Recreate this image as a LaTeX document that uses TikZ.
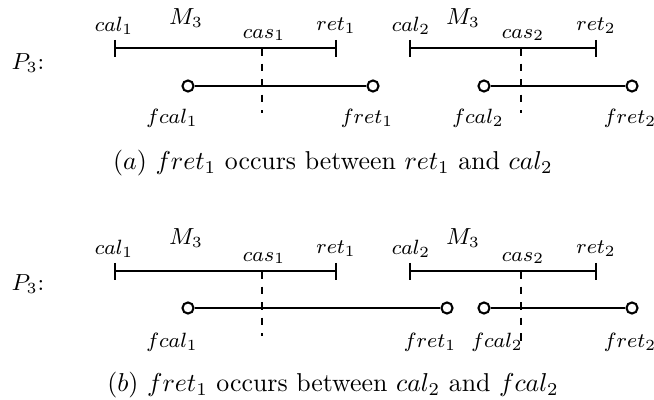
\documentclass[tikz,border=0pt]{standalone}
\usepackage{tikz}

\tikzset{
  span/.style={line width=0.8pt},
  endpt/.style={circle,draw,line width=0.8pt,fill=white,inner sep=0pt,minimum size=4.3pt},
  castick/.style={dashed,line width=0.4pt},
  lbl/.style={font=\footnotesize,inner sep=0pt},
  biglbl/.style={font=\small,inner sep=0pt}
}

\begin{document}
\begin{tikzpicture}[x=0.387pt,y=-0.387pt]
  \useasboundingbox (0,0) rectangle (654,400);
  % (a) fret_1 between ret_1 and cal_2
  \begin{scope}
    \coordinate (cal1a) at (115,48); \coordinate (ret1a) at (336,48);
    \coordinate (cal2a) at (410,48); \coordinate (ret2a) at (596,48);
    \coordinate (cas1a) at (262,48); \coordinate (cas1enda) at (262,113);
    \coordinate (cas2a) at (521,48); \coordinate (cas2enda) at (521,113);
    \draw[span] (cal1a)--(ret1a) (cal2a)--(ret2a);
    \foreach \tt in {cal1a,ret1a,cal2a,ret2a}
      \draw[span] ([yshift=3.1pt]\tt)--([yshift=-3.5pt]\tt);
    \draw[castick] (cas1a)--(cas1enda) (cas2a)--(cas2enda);
    \node[endpt] (fcal1a) at (188,86) {};
    \node[endpt] (fret1a) at (373,86) {};
    \node[endpt] (fcal2a) at (484,86) {};
    \node[endpt] (fret2a) at (632,86) {};
    \draw[span] (fcal1a)--(fret1a) (fcal2a)--(fret2a);
    \node[biglbl] (p3a) at (28,63) {$P_3$:};
    \node[lbl] (lcal1a) at (114,26) {$cal_1$};
    \node[biglbl] (lm3a) at (186,18) {$M_3$};
    \node[lbl] (lcas1a) at (264,35) {$cas_1$};
    \node[lbl] (lret1a) at (336,26) {$ret_1$};
    \node[lbl] (lcal2a) at (411,26) {$cal_2$};
    \node[biglbl] (lm3ba) at (463,18) {$M_3$};
    \node[lbl] (lcas2a) at (523,35) {$cas_2$};
    \node[lbl] (lret2a) at (596,26) {$ret_2$};
    \node[lbl] (lfcal1a) at (172,118) {$fcal_1$};
    \node[lbl] (lfret1a) at (367,118) {$fret_1$};
    \node[lbl] (lfcal2a) at (478,118) {$fcal_2$};
    \node[lbl] (lfret2a) at (630,118) {$fret_2$};
    \node[inner sep=0pt] (capa) at (333,163) {$(a)$ $fret_1$ occurs between $ret_1$ and $cal_2$};
  \end{scope}
  % (b) fret_1 between cal_2 and fcal_2
  \begin{scope}[shift={(0,223)}]
    \coordinate (cal1b) at (115,48); \coordinate (ret1b) at (336,48);
    \coordinate (cal2b) at (410,48); \coordinate (ret2b) at (596,48);
    \coordinate (cas1b) at (262,48); \coordinate (cas1endb) at (262,113);
    \coordinate (cas2b) at (521,48); \coordinate (cas2endb) at (521,118);
    \draw[span] (cal1b)--(ret1b) (cal2b)--(ret2b);
    \foreach \tt in {cal1b,ret1b,cal2b,ret2b}
      \draw[span] ([yshift=3.1pt]\tt)--([yshift=-3.5pt]\tt);
    \draw[castick] (cas1b)--(cas1endb) (cas2b)--(cas2endb);
    \node[endpt] (fcal1b) at (188,85) {};
    \node[endpt] (fret1b) at (447,85) {};
    \node[endpt] (fcal2b) at (484,85) {};
    \node[endpt] (fret2b) at (632,85) {};
    \draw[span] (fcal1b)--(fret1b) (fcal2b)--(fret2b);
    \node[biglbl] (p3b) at (28,61) {$P_3$:};
    \node[lbl] (lcal1b) at (114,26) {$cal_1$};
    \node[biglbl] (lm3b) at (186,15) {$M_3$};
    \node[lbl] (lcas1b) at (264,35) {$cas_1$};
    \node[lbl] (lret1b) at (336,26) {$ret_1$};
    \node[lbl] (lcal2b) at (411,26) {$cal_2$};
    \node[biglbl] (lm3bb) at (463,15) {$M_3$};
    \node[lbl] (lcas2b) at (523,35) {$cas_2$};
    \node[lbl] (lret2b) at (596,26) {$ret_2$};
    \node[lbl] (lfcal1b) at (172,119) {$fcal_1$};
    \node[lbl] (lfret1b) at (430,119) {$fret_1$};
    \node[lbl] (lfcal2b) at (497,119) {$fcal_2$};
    \node[lbl] (lfret2b) at (630,119) {$fret_2$};
    \node[inner sep=0pt] (capb) at (333,162) {$(b)$ $fret_1$ occurs between $cal_2$ and $fcal_2$};
  \end{scope}
\end{tikzpicture}
\end{document}
